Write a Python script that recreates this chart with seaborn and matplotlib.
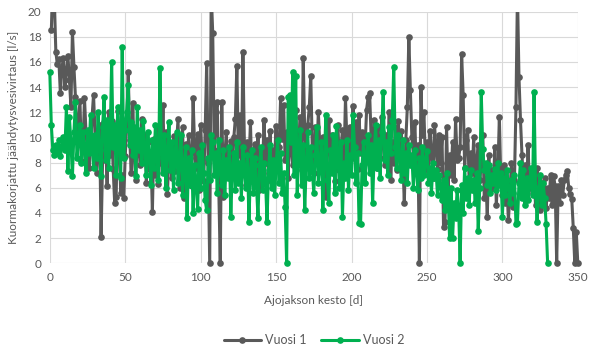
import matplotlib
matplotlib.use("Agg")
import matplotlib.pyplot as plt
import seaborn as sns
import pandas as pd
from matplotlib.patches import Rectangle

# Vuosi 1: days 1..350
vuosi1 = [
    18.5, 22, 21, 16.8, 15.8, 16.2, 13.5, 15.5, 16.3, 14.0,
    15.2, 16.5, 14.6, 12.4, 18.4, 15.6, 13.2, 9.6, 11.2, 12.9,
    8.1, 9.3, 13.1, 10.4, 8.8, 7.6, 9.2, 11.6, 13.4, 10.1,
    7.2, 9.6, 11.0, 2.1, 8.2, 11.2, 10.0, 6.1, 12.0, 8.6,
    11.3, 7.5, 4.8, 5.3, 12.1, 9.5, 5.6, 7.0, 5.2, 8.5,
    11.0, 15.2, 9.8, 7.2, 12.7, 8.4, 6.6, 10.5, 9.0, 7.8,
    11.5, 8.2, 10.2, 6.4, 9.6, 7.5, 8.8, 4.1, 9.9, 7.0,
    10.8, 6.3, 9.2, 8.0, 12.6, 7.4, 10.4, 5.5, 9.0, 8.2,
    6.8, 10.1, 7.3, 9.4, 11.5, 6.0, 8.6, 10.8, 5.2, 9.5,
    7.0, 10.2, 8.4, 6.1, 13.1, 9.2, 7.6, 10.3, 5.8, 11.0,
    8.2, 6.5, 10.6, 15.9, 8.0, 0.0, 21.5, 18.3, 9.0, 12.0,
    12.8, 6.0, 0.0, 12.8, 5.3, 8.5, 10.4, 7.2, 9.0, 9.7,
    7.5, 10.0, 11.5, 15.7, 8.6, 11.8, 7.0, 16.8, 9.4, 6.2,
    9.6, 7.8, 11.2, 6.5, 8.4, 9.5, 7.0, 10.2, 5.8, 8.8,
    7.2, 11.4, 8.0, 9.8, 6.6, 10.5, 7.8, 9.0, 8.2, 10.9,
    7.5, 9.2, 13.1, 9.9, 12.6, 8.2, 10.4, 6.8, 11.0, 9.0,
    7.8, 10.5, 12.2, 8.6, 9.8, 11.6, 7.4, 16.3, 10.2, 8.8,
    11.0, 12.4, 14.9, 9.0, 7.2, 10.8, 8.5, 12.0, 9.4, 7.6,
    10.0, 8.2, 5.3, 9.6, 11.4, 7.8, 10.2, 8.8, 6.5, 9.8,
    11.0, 7.4, 9.2, 10.6, 8.0, 13.1, 9.5, 7.2, 10.8, 8.4,
    12.5, 9.6, 11.2, 7.5, 11.8, 8.8, 10.4, 7.9, 9.2, 12.2,
    13.2, 13.5, 10.0, 8.2, 11.4, 9.0, 7.6, 10.8, 8.4, 11.6,
    9.4, 7.8, 10.2, 8.6, 12.0, 6.6, 9.6, 8.0, 10.8, 7.4,
    11.3, 9.0, 10.5, 8.2, 4.8, 9.8, 12.4, 18.0, 13.8, 10.0,
    8.6, 11.2, 7.2, 9.4, 0.0, 14.0, 10.2, 12.0, 8.0, 9.6,
    7.4, 10.5, 8.8, 6.8, 11.0, 9.2, 7.5, 10.2, 8.0, 10.0,
    2.9, 3.3, 10.8, 6.0, 8.6, 7.0, 9.6, 6.6, 11.5, 8.2,
    8.4, 9.2, 16.6, 13.4, 7.6, 9.8, 10.6, 6.4, 8.8, 7.2,
    10.0, 5.8, 8.2, 9.4, 6.6, 7.8, 10.2, 5.2, 6.8, 3.7,
    8.6, 5.8, 7.4, 6.0, 9.2, 4.6, 7.2, 11.6, 6.4, 5.4,
    7.8, 4.8, 6.2, 3.4, 5.6, 8.0, 4.5, 6.6, 12.4, 21.5,
    14.8, 11.4, 8.6, 6.4, 7.8, 5.2, 9.4, 6.0, 7.0, 5.6,
    6.8, 4.6, 7.6, 5.8, 4.2, 6.4, 5.0, 6.8, 4.4, 6.0,
    5.2, 7.0, 4.6, 6.9, 6.1, 0.0, 6.1, 4.8, 6.6, 5.4,
    6.6, 7.0, 7.3, 6.0, 5.5, 5.1, 2.8, 0.0, 2.5, 0.0,
]
days1 = list(range(1, len(vuosi1) + 1))

# Vuosi 2: days 0..330
vuosi2 = [
    15.2, 11.0, 9.0, 8.6, 9.4, 8.8, 9.8, 8.5, 9.2, 10.0,
    9.0, 12.4, 7.3, 11.6, 9.6, 6.9, 10.4, 12.8, 8.4, 9.8,
    11.0, 8.0, 10.4, 9.2, 7.2, 10.6, 8.8, 11.8, 9.4, 7.6,
    10.2, 8.4, 12.0, 9.0, 6.9, 10.8, 13.2, 8.2, 11.4, 7.6,
    9.8, 16.0, 9.2, 11.0, 7.0, 12.4, 9.6, 6.8, 17.2, 8.4,
    10.6, 12.0, 14.2, 9.4, 11.2, 8.6, 10.8, 6.9, 12.4, 9.0,
    10.6, 8.0, 11.3, 9.2, 7.0, 10.4, 8.6, 6.2, 9.8, 7.6,
    11.0, 8.4, 6.6, 15.5, 9.0, 7.2, 10.2, 6.0, 8.8, 11.2,
    7.4, 9.6, 5.8, 8.6, 10.4, 6.4, 8.0, 10.2, 5.4, 7.8,
    9.2, 3.6, 8.4, 6.2, 9.0, 4.0, 7.8, 6.4, 4.3, 8.8,
    6.0, 9.4, 7.2, 5.0, 4.2, 8.4, 6.6, 10.2, 9.6, 7.0,
    8.8, 5.6, 9.8, 7.4, 6.2, 9.0, 5.4, 8.2, 6.8, 9.2,
    3.7, 7.6, 8.8, 5.8, 9.6, 6.4, 8.0, 5.2, 9.2, 7.4,
    6.0, 8.6, 3.3, 7.2, 9.0, 5.6, 8.4, 6.2, 3.6, 7.8,
    9.2, 5.8, 8.0, 6.6, 3.3, 7.4, 9.4, 6.0, 8.2, 5.4,
    7.6, 9.8, 6.4, 8.8, 5.6, 7.2, 4.5, 0.0, 13.2, 13.4,
    9.6, 15.2, 7.0, 14.9, 5.4, 8.8, 10.6, 6.2, 9.4, 4.2,
    8.0, 10.4, 6.8, 9.2, 7.4, 5.6, 8.6, 10.8, 6.4, 7.8,
    9.6, 4.2, 8.2, 11.8, 6.6, 4.8, 9.0, 7.2, 10.2, 5.6,
    10.9, 8.4, 6.0, 9.6, 3.7, 8.0, 6.8, 9.8, 5.8, 8.6,
    7.0, 11.8, 9.2, 6.4, 8.8, 3.2, 3.1, 7.8, 9.6, 6.4,
    8.4, 10.2, 7.2, 9.4, 4.8, 8.6, 11.0, 7.6, 9.8, 6.8,
    10.4, 13.6, 8.2, 9.6, 7.0, 10.8, 8.8, 11.4, 15.6, 9.2,
    7.6, 10.2, 8.4, 6.6, 9.8, 7.2, 8.8, 6.4, 9.4, 7.8,
    8.6, 6.0, 9.0, 7.4, 5.8, 8.4, 6.8, 9.2, 7.0, 8.2,
    8.9, 6.4, 7.6, 5.6, 8.0, 6.8, 7.4, 5.4, 7.0, 6.2,
    5.0, 6.6, 4.2, 7.2, 5.6, 2.0, 6.0, 2.0, 4.8, 3.6,
    5.8, 4.4, 0.0, 6.2, 4.0, 7.6, 5.2, 6.8, 4.6, 7.4,
    5.8, 6.6, 4.8, 7.2, 2.6, 6.0, 13.6, 9.1, 7.4, 8.0,
    6.2, 7.8, 5.6, 7.0, 6.4, 7.5, 5.8, 8.0, 6.2, 7.2,
    3.7, 6.8, 5.4, 7.4, 6.0, 4.8, 6.6, 5.6, 7.0, 3.1,
    3.2, 6.4, 8.0, 5.2, 7.4, 4.6, 6.8, 5.0, 6.2, 7.6,
    5.4, 13.6, 6.0, 3.3, 5.8, 7.0, 4.6, 6.4, 5.2, 3.1,
    0.0,
]
days2 = list(range(0, len(vuosi2)))

series_names = ["Vuosi 1", "Vuosi 2"]
colors = {"Vuosi 1": "#595959", "Vuosi 2": "#00B050"}

df = pd.concat([
    pd.DataFrame({"day": days1, "flow": vuosi1, "series": series_names[0]}),
    pd.DataFrame({"day": days2, "flow": vuosi2, "series": series_names[1]}),
])

sns.set_style("white")
plt.rcParams["font.family"] = ["Lato", "DejaVu Sans"]

fig, ax = plt.subplots(figsize=(6.0, 3.51), dpi=100)
fig.subplots_adjust(left=0.083, right=0.963, top=0.967, bottom=0.25)

sns.lineplot(data=df, x="day", y="flow", hue="series", palette=colors,
             marker="o", markersize=4.8, markeredgewidth=0, linewidth=2.2,
             ax=ax, legend=True)

ax.set_xlim(0, 350)
ax.set_ylim(0, 20)
ax.set_xticks(range(0, 351, 50))
ax.set_yticks(range(0, 21, 2))
ax.grid(True, color="#D9D9D9", linewidth=0.8)
ax.set_axisbelow(True)
for s in ax.spines.values():
    s.set_visible(False)
ax.tick_params(axis="both", length=0, labelsize=8.5, colors="#595959", pad=6)

# clip only at the top, keep markers on the zero line fully visible
clip = Rectangle((-0.02, -0.03), 1.04, 1.03, transform=ax.transAxes,
                 facecolor="none", edgecolor="none")
ax.add_patch(clip)
for line in ax.lines:
    line.set_clip_path(clip)

ax.set_xlabel("Ajojakson kesto [d]", fontsize=8.5, color="#595959", labelpad=9)
ax.set_ylabel("Kuormakorjattu jäähdytysvesivirtaus [l/s]", fontsize=8.5,
              color="#595959", labelpad=6)

sns.move_legend(ax, "center", bbox_to_anchor=(0.5, -0.305), ncol=2,
                title=None, frameon=False, fontsize=9, handlelength=3,
                columnspacing=1.2, handletextpad=0.3)
for t in ax.get_legend().get_texts():
    t.set_color("#595959")

plt.savefig("out.png", dpi=100)
plt.close()
